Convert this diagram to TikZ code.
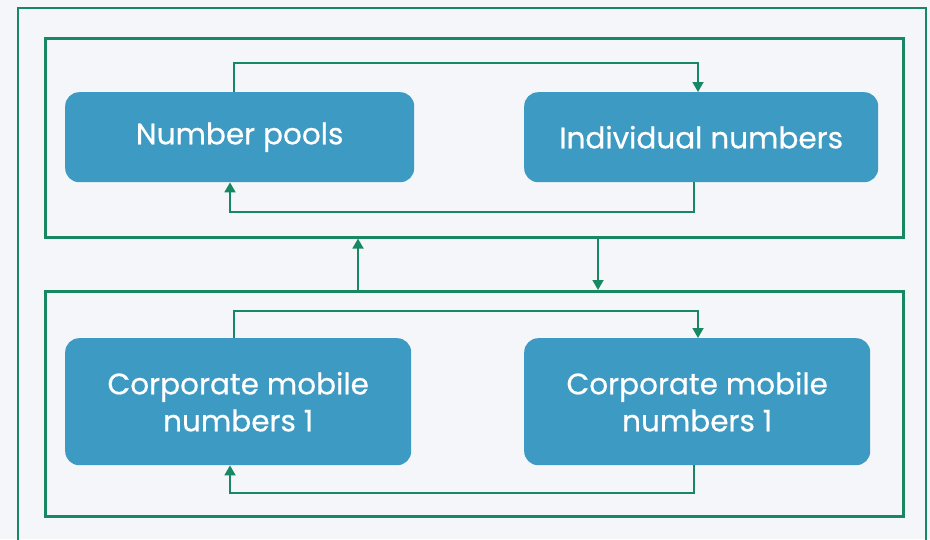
\documentclass[tikz,border=0pt]{standalone}
\usepackage{fontspec}
\setmainfont{Poppins}
\newfontfamily\cardfont{Poppins}[FakeBold=0.6]
\usetikzlibrary{arrows.meta,backgrounds}
\definecolor{bgc}{HTML}{F4F6FA}
\definecolor{linec}{HTML}{178862}
\definecolor{boxc}{HTML}{3D9AC2}
\tikzset{
  frame/.style={draw=linec,line width=2.6pt},
  card/.style={fill=boxc,rounded corners=14pt,text=white,font=\cardfont\fontsize{29.5}{37}\selectfont,align=center},
  link/.style={draw=linec,line width=1.8pt,-{Triangle[width=11pt,length=10pt]}},
}
% soft shadow under a card, built from faint stacked layers
\newcommand\cardshadow[1]{%
  \foreach \g in {1,...,8}{%
    \fill[black,opacity=0.012,rounded corners=14pt+\g pt]
      ([xshift=-\g pt,yshift=-\g pt-3pt]#1.north west) rectangle ([xshift=\g pt,yshift=\g pt+5pt]#1.south east);
  }}
\begin{document}
\begin{tikzpicture}[x=1pt,y=-1pt]
\useasboundingbox (0,0) rectangle (930,539);
\fill[bgc] (0,0) rectangle (930,539);
\clip (0,0) rectangle (930,539);
% outer frame (runs past the lower edge)
\draw[frame] (18,8) rectangle (926,560);
% group frames
\node[frame,minimum width=858,minimum height=199,inner sep=0,anchor=north west] (g1) at (44,37) {};
\node[frame,minimum width=858,minimum height=225,inner sep=0,anchor=north west] (g2) at (44,290) {};
% cards
\node[card,minimum width=349,minimum height=90,anchor=north west] (np) at (65,92) {Number pools};
\node[card,minimum width=354,minimum height=90,anchor=north west] (in) at (524,92) {Individual numbers};
\node[card,minimum width=346,minimum height=127,anchor=north west] (c1) at (65,338) {Corporate mobile\\numbers 1};
\node[card,minimum width=346,minimum height=127,anchor=north west] (c2) at (524,338) {Corporate mobile\\numbers 1};
\begin{scope}[on background layer]
  \cardshadow{np}\cardshadow{in}\cardshadow{c1}\cardshadow{c2}
\end{scope}
% connectors in the upper group
\draw[link] (np.north -| 234,0) |- (0,63 -| 698,0) -- (in.north -| 698,0);
\draw[link] (in.south -| 694,0) |- (0,212 -| 230,0) -- (np.south -| 230,0);
% connectors between the groups
\draw[link] (g2.north -| 358,0) -- (g1.south -| 358,0);
\draw[link] (g1.south -| 598,0) -- (g2.north -| 598,0);
% connectors in the lower group
\draw[link] (c1.north -| 234,0) |- (0,311 -| 698,0) -- (c2.north -| 698,0);
\draw[link] (c2.south -| 694,0) |- (0,493 -| 230,0) -- (c1.south -| 230,0);
\end{tikzpicture}
\end{document}
